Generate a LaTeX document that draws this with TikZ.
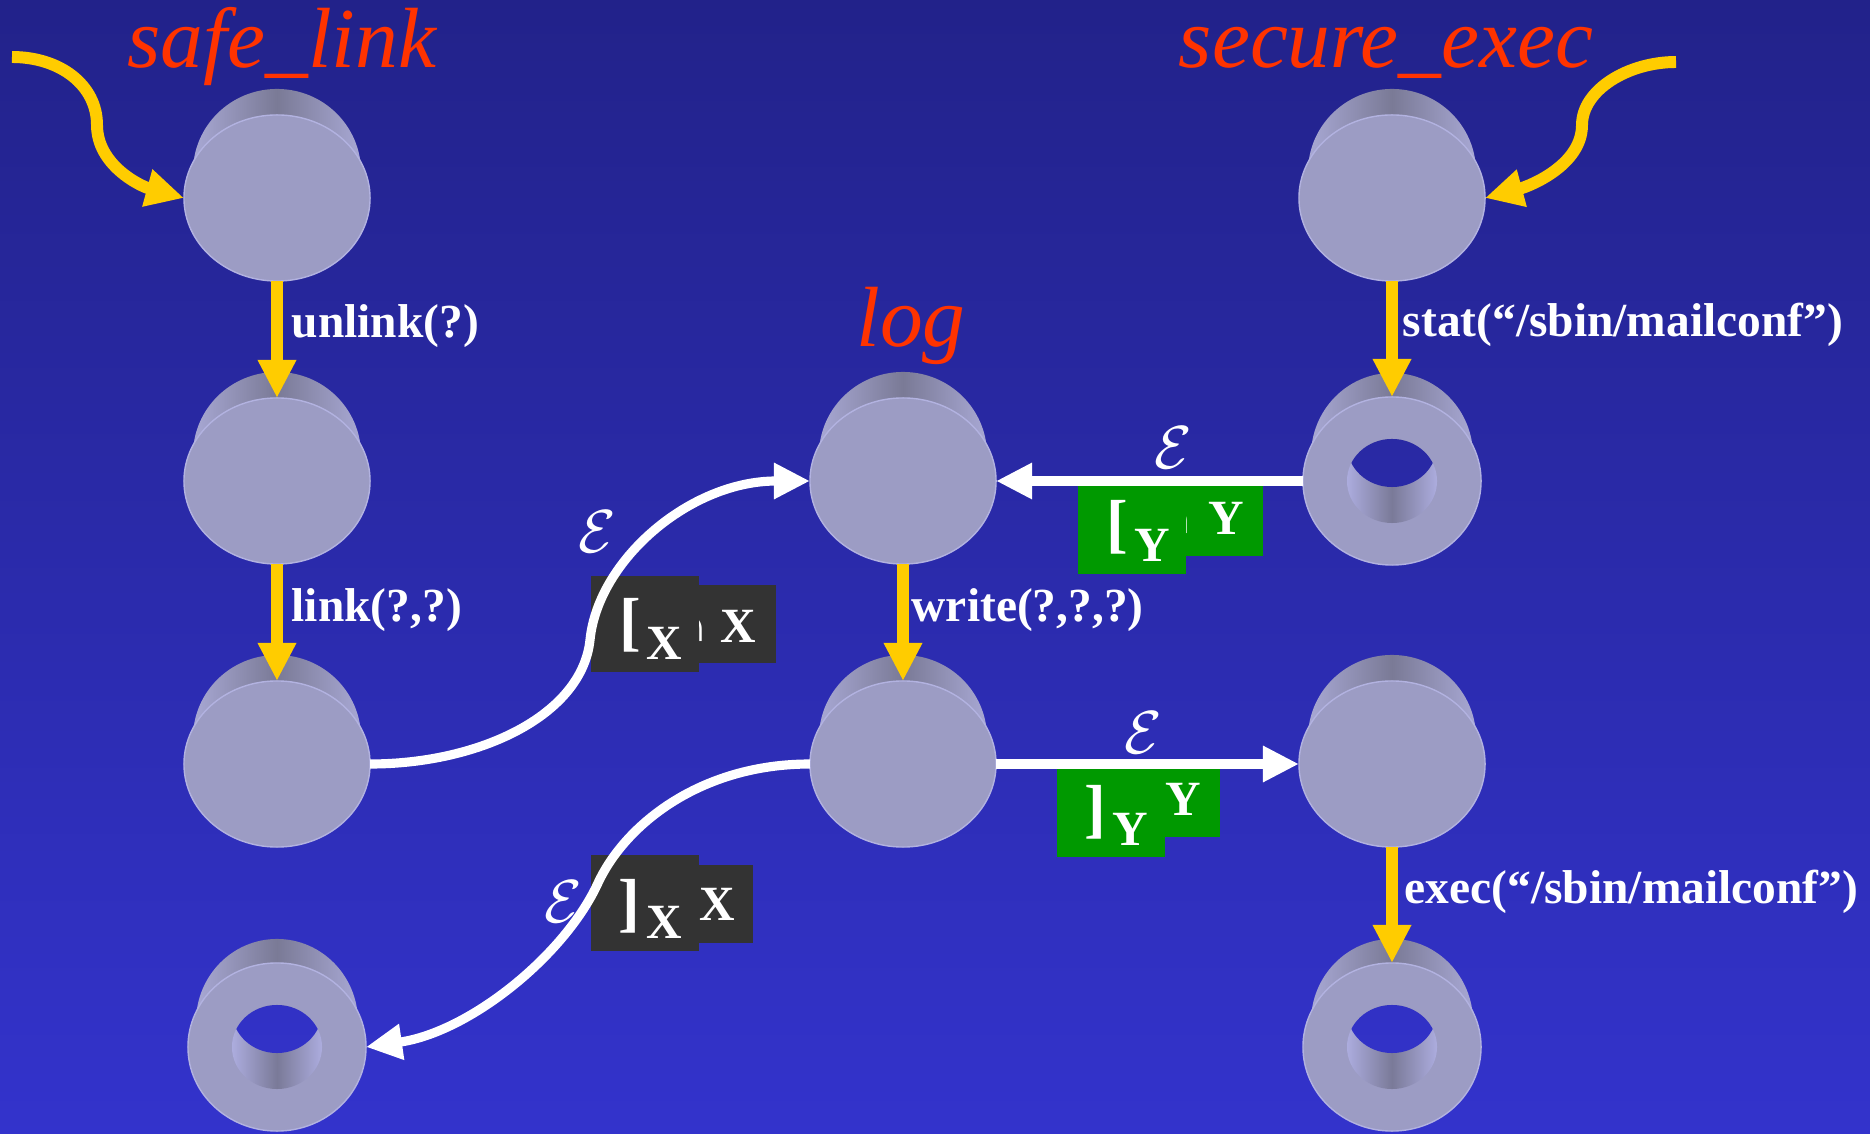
\documentclass[tikz,border=0pt]{standalone}
\usepackage{fontspec}
\setmainfont{Liberation Serif}
\usetikzlibrary{arrows.meta,shapes.geometric}
\definecolor{bgtop}{RGB}{34,34,138}
\definecolor{bgbot}{RGB}{51,51,204}
\definecolor{face}{RGB}{156,156,196}
\definecolor{faceedge}{RGB}{178,178,224}
\definecolor{rimlight}{RGB}{168,168,212}
\definecolor{rimdark}{RGB}{122,122,150}
\definecolor{holelight}{RGB}{172,172,222}
\definecolor{holedark}{RGB}{122,122,152}
\definecolor{titlered}{RGB}{255,51,0}
\definecolor{arrowyellow}{RGB}{255,204,0}
\definecolor{boxdark}{RGB}{51,51,51}
\definecolor{boxgreen}{RGB}{0,153,0}
\tikzset{
  bgfill/.style={top color=bgtop, bottom color=bgbot},
  diskface/.style={ellipse, minimum width=1.86cm, minimum height=1.66cm, inner sep=0pt, outer sep=0pt, fill=face, draw=faceedge, line width=0.4pt},
  ringface/.style={diskface, minimum width=1.78cm, minimum height=1.68cm},
  rim/.style={left color=rimlight, right color=rimlight, middle color=rimdark},
  holewall/.style={left color=holelight, right color=holelight, middle color=holedark},
  yarrow/.style={draw=arrowyellow, line width=3.4pt, -{Triangle[length=0.38cm, width=0.36cm]}},
  warrow/.style={draw=white, line width=2.6pt, -{Triangle[length=0.36cm, width=0.34cm]}},
  ttl/.style={text=titlered, font=\fontsize{24.3}{28}\selectfont\itshape, inner sep=0pt, anchor=base},
  lbl/.style={text=white, font=\fontsize{13.5}{16}\selectfont\bfseries, inner sep=0pt, anchor=base west},
  glyph/.style={text=white, font=\fontsize{14}{16}\selectfont\bfseries, inner sep=0pt, anchor=center},
  brk/.style={glyph, font=\fontsize{18.5}{20}\selectfont\bfseries},
  eps/.style={text=white, font=\fontsize{17.28}{19}\selectfont, inner sep=0pt},
  dbox/.style={fill=boxdark, inner sep=0pt, outer sep=0pt, draw=none},
  gbox/.style={fill=boxgreen, inner sep=0pt, outer sep=0pt, draw=none},
}
\newcommand{\mydisk}[3]{%
  \path[rim] (#2,#3-26) ellipse [x radius=0.84cm, y radius=0.83cm];
  \node[diskface] (#1) at (#2,#3) {};
}
\newcommand{\myring}[3]{%
  \path[rim] (#2,#3-25) ellipse [x radius=0.81cm, y radius=0.83cm];
  \node[ringface] (#1) at (#2,#3) {};
  \path[holewall] (#2,#3) ellipse [x radius=0.45cm, y radius=0.42cm];
  \begin{scope}
    \clip (#2,#3) ellipse [x radius=0.45cm, y radius=0.42cm];
    \clip (#2,#3-36) ellipse [x radius=0.45cm, y radius=0.42cm];
    \path[bgfill] (0,0) rectangle (1870,1134);
  \end{scope}
}
\begin{document}
\begin{tikzpicture}[x=0.01cm, y=-0.01cm]
\useasboundingbox (0,0) rectangle (1870,1134);
\path[bgfill] (0,0) rectangle (1870,1134);

% nodes
\mydisk{a1}{277}{198}
\mydisk{a2}{277}{481}
\mydisk{a3}{277}{764}
\myring{a4}{277}{1047}
\mydisk{l1}{903}{481}
\mydisk{l2}{903}{764}
\mydisk{b1}{1392}{198}
\myring{b2}{1392}{481}
\mydisk{b3}{1392}{764}
\myring{b4}{1392}{1047}

% titles
\node[ttl] (t1) at (282,68) {safe\_link};
\node[ttl] (t2) at (1386,68) {secure\_exec};
\node[ttl] (t3) at (911,347) {log};

% label boxes group 1
\node[dbox, minimum width=0.96cm, minimum height=0.78cm] (g1b) at (728,624) {};
\node[glyph, anchor=base east] (g1c) at (710,642) {∩};
\node[glyph] (g1x) at (738,626) {X};
\node[dbox, minimum width=1.08cm, minimum height=0.96cm] (g1f) at (645,624) {};
\node[brk] (g1k) at (630,625) {[};
\node[glyph] (g1s) at (664,643) {X};

% group 2
\node[gbox, minimum width=0.93cm, minimum height=0.70cm] (g2b) at (1216.5,521) {};
\node[glyph, anchor=base east] (g2c) at (1195,534) {∩};
\node[glyph] (g2y) at (1226,518) {Y};
\node[gbox, minimum width=1.08cm, minimum height=0.88cm] (g2f) at (1132,530) {};
\node[brk] (g2k) at (1117,527) {[};
\node[glyph] (g2s) at (1152,545) {Y};

% group 3
\node[gbox, minimum width=0.70cm, minimum height=0.68cm] (g3b) at (1185,803) {};
\node[glyph] (g3y) at (1183,799) {Y};
\node[gbox, minimum width=1.08cm, minimum height=0.88cm] (g3f) at (1111,813) {};
\node[brk] (g3k) at (1095,812) {]};
\node[glyph] (g3s) at (1130,829) {Y};

% group 4
\node[dbox, minimum width=0.73cm, minimum height=0.78cm] (g4b) at (716.5,904) {};
\node[glyph] (g4x) at (717,904) {X};
\node[dbox, minimum width=1.08cm, minimum height=0.96cm] (g4f) at (645,903) {};
\node[brk] (g4k) at (629,906) {]};
\node[glyph] (g4s) at (664,922) {X};

% white connectors
\draw[warrow] (a3.east) .. controls (480,764) and (582,715) .. (590,640) .. controls (598,560) and (690,481) .. (l1.west);
\draw[warrow] (l2.west) .. controls (700,764) and (625,825) .. (598,883) .. controls (565,955) and (470,1032) .. (a4.east);
\draw[warrow] (b2.west) -- (l1.east);
\draw[warrow] (l2.east) -- (b3.west);

% yellow connectors
\coordinate (ls) at (12,57);
\coordinate (rs) at (1676,62);
\draw[yarrow] (ls) .. controls (60,57) and (97,85) .. (97,125) .. controls (97,165) and (140,186) .. (a1.west);
\draw[yarrow] (rs) .. controls (1628,62) and (1582,90) .. (1582,125) .. controls (1582,165) and (1530,186) .. (b1.east);
\draw[yarrow] (a1) -- (a2);
\draw[yarrow] (a2) -- (a3);
\draw[yarrow] (l1) -- (l2);
\draw[yarrow] (b1) -- (b2);
\draw[yarrow] (b3) -- (b4);

% call labels
\node[lbl] (u1) at (291,338) {unlink(?)};
\node[lbl] (u2) at (291,621) {link(?,?)};
\node[lbl] (u3) at (911,621) {write(?,?,?)};
\node[lbl] (u4) at (1402,337) {stat(“/sbin/mailconf”)};
\node[lbl] (u5) at (1404,903) {exec(“/sbin/mailconf”)};

% epsilon labels
\node[eps] (e1) at (597,532) {$\mathcal{E}$};
\node[eps] (e2) at (1173,448) {$\mathcal{E}$};
\node[eps] (e3) at (1143,733) {$\mathcal{E}$};
\node[eps] (e4) at (563,902) {$\mathcal{E}$};
\end{tikzpicture}
\end{document}
